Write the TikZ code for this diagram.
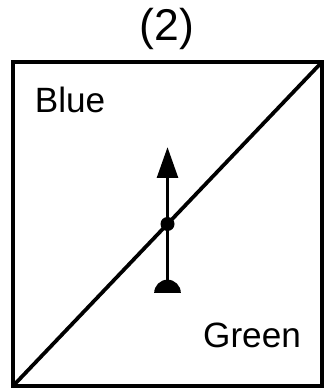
\documentclass[tikz,border=0pt]{standalone}
\usepackage{fontspec}
\setmainfont{Liberation Sans}
\usetikzlibrary{arrows.meta,positioning,calc}

\begin{document}
\begin{tikzpicture}[
        frame/.style={draw, line width=3.2pt},
        label/.style={font=\fontsize{30}{32}\selectfont, inner sep=0pt},
        pivot/.style={circle, fill, inner sep=0pt, minimum size=0.42cm},
        vec/.style={line width=3.2pt, -{Triangle[length=0.93cm, width=0.62cm]}}
    ]
    \useasboundingbox (0,0) rectangle (9.81,11.67);
    % Quadro
    \coordinate (sw) at (0.39,0.09);
    \coordinate (ne) at (9.66,9.81);
    \draw[frame] (sw) rectangle (ne);
    \draw[frame] (sw) -- (ne);
    % Textos
    \node[label, font=\fontsize{38}{40}\selectfont] (num) at (5.01,10.8) {(2)};
    \node[label] (blue) at (2.1,8.67) {Blue};
    \node[label] (green) at (7.56,1.62) {Green};
    % Vetor
    \node[pivot] (dot) at ($(sw)!0.5!(ne)$) {};
    \coordinate (base) at (dot |- 0,2.88);
    \coordinate (tip) at (dot |- 0,7.26);
    \fill (base) ++(-0.4,0) arc (180:0:0.4) -- cycle;
    \draw[vec] (base) -- (tip);
\end{tikzpicture}
\end{document}
